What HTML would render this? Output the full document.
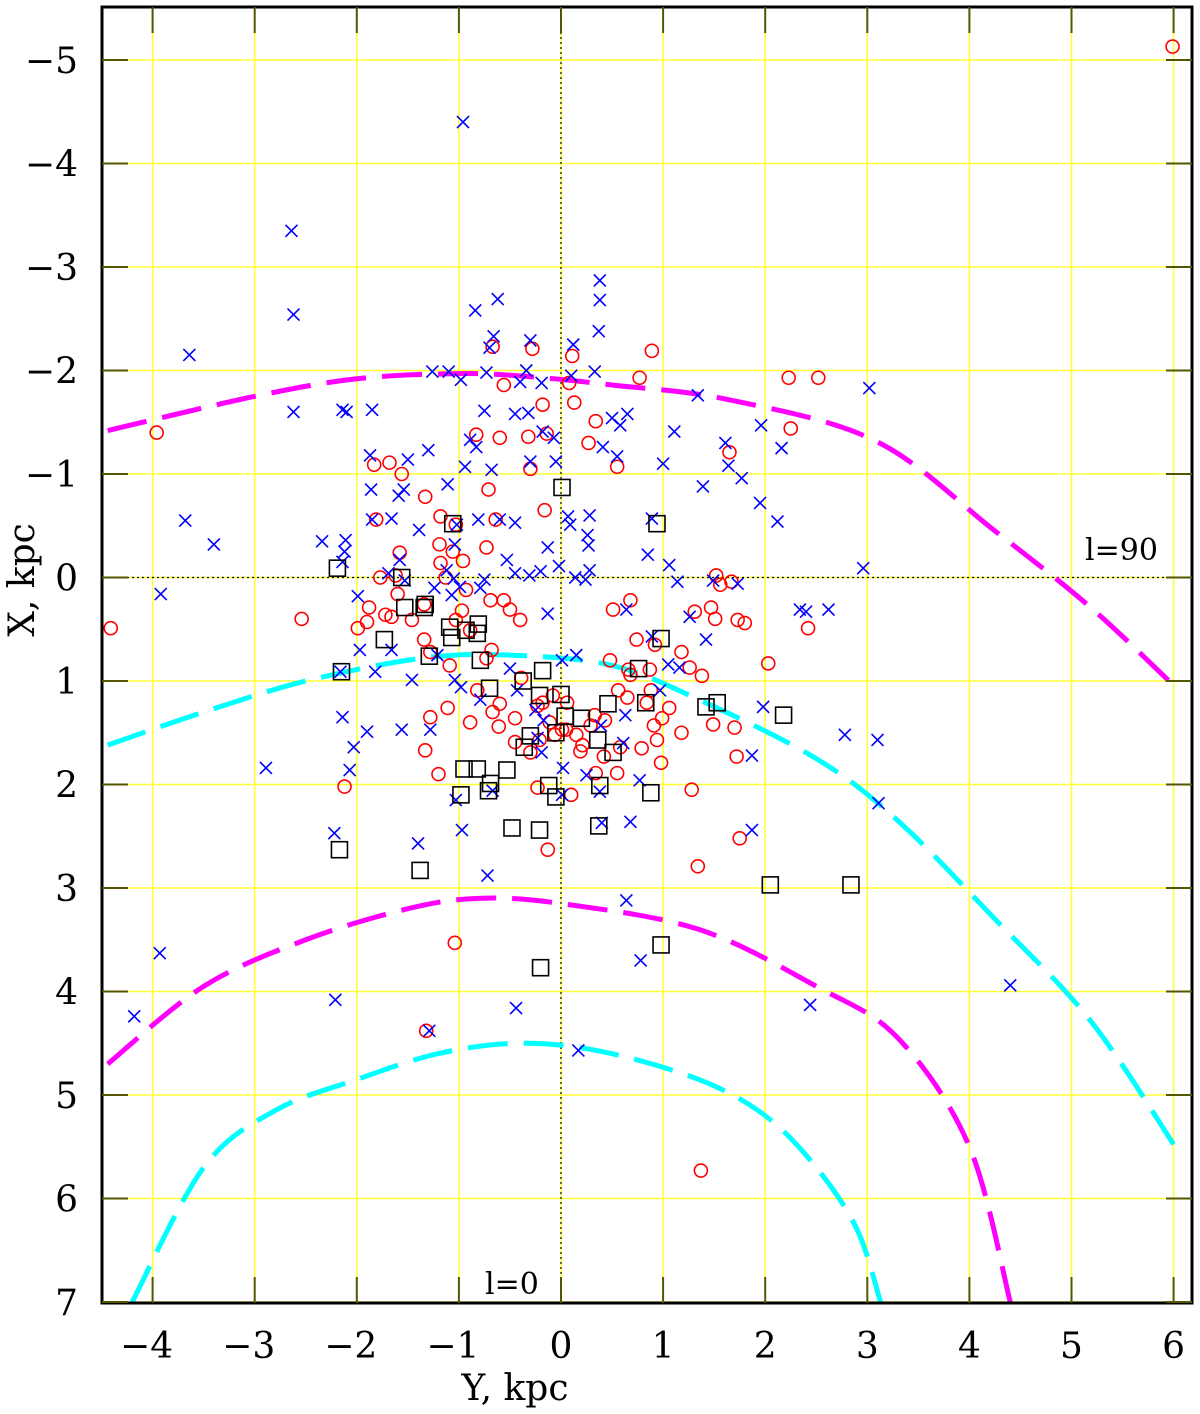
<!DOCTYPE html>
<html><head><meta charset="utf-8"><style>
html,body{margin:0;padding:0;background:#fff}
svg{display:block}
text{font-family:"DejaVu Serif","Liberation Serif",serif;fill:#000}
</style></head><body>
<svg id="chart" width="1200" height="1414" xmlns="http://www.w3.org/2000/svg">
<g id="grid"></g>
<g id="arcs"></g>
<g id="pts"></g>
<g id="axes"></g>
</svg>
<script>
// data arrays (Y kpc horizontal, X kpc vertical)
const xTicks=[-4,-3,-2,-1,0,1,2,3,4,5,6];
const yTicks=[-5,-4,-3,-2,-1,0,1,2,3,4,5,6,7];
const arcOuterMagY=[-4.44,-3,-2,-1,-0.3,0.5,1.63,3.08,4.25,5.2,6.06];
const arcOuterMagX=[-1.42,-1.75,-1.92,-1.97,-1.94,-1.86,-1.72,-1.32,-0.45,0.3,1.1];
const arcCyan1Y=[-4.44,-3.5,-2.5,-1.36,-0.5,0.5,1.35,2.5,3.3,4.25,5.2,6.08];
const arcCyan1X=[1.62,1.3,1.0,0.78,0.75,0.85,1.18,1.75,2.35,3.3,4.3,5.6];
const arcMag2Y=[-4.44,-3.5,-2.5,-1.5,-0.8,0,1.35,2.5,3.3,4.0,4.4];
const arcMag2X=[4.7,3.95,3.5,3.2,3.1,3.15,3.4,3.95,4.45,5.5,7.0];
const arcCyan2Y=[-4.2,-3.5,-2.8,-2,-1.2,-0.4,0.4,1.35,2.0,2.5,2.9,3.13];
const arcCyan2X=[7.0,5.7,5.15,4.85,4.6,4.5,4.58,4.85,5.2,5.7,6.3,7.0];
function px(p){return p.map(v=>[+((v[0]-561)/102.1).toFixed(2),+((v[1]-577.5)/103.5).toFixed(2)]);}
const crosses=px([[463,122],[291,231],[294,315],[189,355],[294,412],[185,521],[214,544],[161,594],[347,412],[372,410],[432,372],[449,372],[461,380],[486,373],[526,371],[475,310],[498,299],[530,340],[600,280],[600,300],[599,331],[573,345],[595,372],[571,376],[627,414],[620,425],[603,447],[490,348],[494,336],[520,382],[470,440],[476,447],[492,470],[530,462],[554,438],[556,462],[543,432],[542,383],[528,413],[515,414],[484,411],[612,418],[663,464],[674,432],[703,486],[698,395],[725,443],[728,466],[742,478],[761,425],[782,448],[760,503],[777,522],[869,388],[863,568],[800,610],[738,584],[713,581],[677,582],[669,565],[652,518],[648,555],[617,456],[590,515],[588,535],[589,545],[585,580],[590,570],[568,516],[570,525],[548,548],[559,566],[575,577],[541,571],[529,575],[515,573],[484,580],[507,560],[515,523],[500,520],[478,520],[457,525],[455,544],[447,570],[454,579],[460,587],[480,588],[419,530],[400,560],[372,520],[392,519],[371,490],[404,490],[408,460],[428,450],[448,484],[465,467],[399,496],[370,455],[342,410],[346,540],[345,552],[342,562],[322,541],[358,596],[388,573],[405,581],[434,588],[452,595],[548,614],[562,660],[576,655],[510,669],[517,690],[535,710],[544,720],[480,700],[461,687],[437,655],[412,680],[392,650],[360,650],[375,672],[340,672],[342,717],[354,747],[350,770],[367,732],[402,730],[430,730],[455,680],[626,610],[652,636],[668,664],[679,668],[690,617],[706,640],[660,690],[625,715],[601,725],[623,743],[640,780],[587,775],[600,792],[630,822],[602,823],[562,795],[542,752],[563,768],[538,738],[493,791],[456,800],[462,830],[487,876],[418,844],[334,833],[335,1000],[429,1031],[516,1008],[578,1050],[626,900],[641,960],[810,1005],[845,735],[877,740],[879,803],[752,756],[752,830],[763,707],[806,612],[829,610],[266,768],[160,953],[134,1016],[1010,985]]);
const circles=px([[1173,47],[111,628],[157,433],[493,347],[532,349],[572,356],[652,351],[789,378],[504,385],[569,383],[574,403],[589,443],[617,467],[596,421],[640,378],[547,434],[543,405],[528,437],[500,438],[476,435],[488,490],[496,520],[545,510],[530,469],[486,547],[453,552],[463,561],[456,525],[440,544],[425,497],[441,516],[389,463],[374,465],[402,474],[376,520],[380,578],[396,575],[398,594],[400,553],[392,617],[412,620],[367,622],[358,628],[424,640],[430,652],[450,665],[456,620],[462,611],[466,590],[470,630],[491,600],[504,600],[510,610],[520,620],[492,650],[486,658],[477,690],[448,708],[430,717],[425,750],[426,1031],[438,774],[455,943],[345,787],[302,619],[500,704],[515,718],[493,712],[499,727],[515,742],[530,752],[540,740],[538,706],[550,722],[543,703],[553,695],[562,730],[555,735],[566,730],[576,735],[582,745],[595,715],[605,720],[618,690],[630,675],[650,670],[651,690],[647,703],[662,718],[628,670],[610,660],[613,610],[630,600],[637,640],[655,645],[681,652],[690,668],[702,676],[695,612],[711,608],[716,575],[720,585],[715,619],[745,623],[732,582],[729,452],[791,428],[818,378],[738,620],[768,663],[808,628],[701,1171],[669,708],[657,740],[642,748],[661,763],[681,733],[713,724],[735,728],[737,757],[692,790],[617,773],[571,795],[538,788],[548,850],[596,773],[604,757],[740,838],[698,866],[654,725],[620,747],[627,698],[470,722],[580,751],[591,725],[567,703],[521,678],[446,577],[369,607],[385,615],[424,604],[441,563]]);
const squares=px([[337,568],[402,578],[384,640],[341,672],[425,604],[429,656],[450,627],[452,638],[477,633],[453,524],[480,660],[490,688],[523,681],[543,671],[540,695],[561,694],[556,733],[565,716],[581,718],[598,740],[613,752],[608,704],[639,669],[661,639],[646,703],[651,793],[657,524],[562,487],[717,703],[706,707],[784,715],[600,786],[549,786],[540,830],[512,828],[491,783],[489,791],[461,795],[464,769],[477,769],[507,770],[339,850],[420,870],[770,885],[851,885],[661,945],[541,968],[524,747],[530,736],[466,630],[478,624],[405,607],[424,607],[556,797],[599,826]]);

const NS='http://www.w3.org/2000/svg';
const L=102,R=1192,T=7,B=1303;
const sx=v=>561+v*102.1, sy=v=>577.5+v*103.5;
function mk(tag,attrs,parent){const e=document.createElementNS(NS,tag);for(const k in attrs)e.setAttribute(k,attrs[k]);parent.appendChild(e);return e;}
const grid=document.getElementById('grid'),arcs=document.getElementById('arcs'),pts=document.getElementById('pts'),axes=document.getElementById('axes');
const clip=mk('clipPath',{id:'cp'},mk('defs',{},document.getElementById('chart')));
mk('rect',{x:L,y:T,width:R-L,height:B-T},clip);
xTicks.forEach(v=>{const l=mk('line',{x1:sx(v),x2:sx(v),y1:T,y2:B,stroke:'#ffff33','stroke-width':1.5},grid);

});
yTicks.forEach(v=>{const l=mk('line',{y1:sy(v),y2:sy(v),x1:L,x2:R,stroke:'#ffff33','stroke-width':1.5},grid);

});
mk('line',{x1:sx(0),x2:sx(0),y1:T,y2:B,stroke:'#000','stroke-dasharray':'2,3','stroke-width':1.2},grid);
mk('line',{y1:sy(0),y2:sy(0),x1:L,x2:R,stroke:'#000','stroke-dasharray':'2,3','stroke-width':1.2},grid);
function curve(Ys,Xs,color,name){
  const p=Ys.map((y,i)=>[sx(y),sy(Xs[i])]);
  let d='M'+p[0][0]+','+p[0][1];
  for(let i=0;i<p.length-1;i++){const p0=p[i-1]||p[i],p1=p[i],p2=p[i+1],p3=p[i+2]||p2;
    d+=` C${p1[0]+(p2[0]-p0[0])/6},${p1[1]+(p2[1]-p0[1])/6} ${p2[0]-(p3[0]-p1[0])/6},${p2[1]-(p3[1]-p1[1])/6} ${p2[0]},${p2[1]}`;}
  const e=mk('path',{d:d,fill:'none',stroke:color,'stroke-width':5,'stroke-dasharray':'40,16','clip-path':'url(#cp)'},arcs);
  
  
}
curve(arcOuterMagY,arcOuterMagX,'#ff00ff','arm-outer-magenta');
curve(arcCyan1Y,arcCyan1X,'#00ffff','arm-cyan-upper');
curve(arcMag2Y,arcMag2X,'#ff00ff','arm-magenta-lower');
curve(arcCyan2Y,arcCyan2X,'#00ffff','arm-cyan-lower');
circles.forEach(p=>{const e=mk('circle',{cx:sx(p[0]),cy:sy(p[1]),r:6.5,fill:'none',stroke:'#ff0000','stroke-width':1.6},pts);

});
crosses.forEach(p=>{const x=sx(p[0]),y=sy(p[1]);const e=mk('path',{d:`M${x-6},${y-6}L${x+6},${y+6}M${x-6},${y+6}L${x+6},${y-6}`,stroke:'#0000ff','stroke-width':1.6},pts);

});
squares.forEach(p=>{const e=mk('rect',{x:sx(p[0])-8,y:sy(p[1])-8,width:16,height:16,fill:'none',stroke:'#000','stroke-width':1.6},pts);

});
const fr=mk('rect',{x:L,y:T,width:R-L,height:B-T,fill:'none',stroke:'#000','stroke-width':3},axes);


xTicks.forEach(v=>{mk('line',{x1:sx(v),x2:sx(v),y1:B,y2:B-26,stroke:'#555500','stroke-width':2},axes);mk('line',{x1:sx(v),x2:sx(v),y1:T,y2:T+26,stroke:'#555500','stroke-width':2},axes);
const t=mk('text',{x:sx(v)-(v<0?6:0),y:1358,'text-anchor':'middle','font-size':36},axes);t.textContent=v<0?'\u2212'+(-v):v;

});
yTicks.forEach(v=>{mk('line',{y1:sy(v),y2:sy(v),x1:L,x2:L+26,stroke:'#555500','stroke-width':2},axes);mk('line',{y1:sy(v),y2:sy(v),x1:R,x2:R-26,stroke:'#555500','stroke-width':2},axes);
const t=mk('text',{x:78,y:sy(v)+13,'text-anchor':'end','font-size':36},axes);t.textContent=v<0?'\u2212'+(-v):v;

});
</script>
<svg style="position:absolute;left:0;top:0" width="1200" height="1414">
<text x="515" y="1400" text-anchor="middle" font-size="36" style="font-family:'DejaVu Serif',serif">Y, kpc</text>
<text transform="translate(34,580) rotate(-90)" text-anchor="middle" font-size="36" style="font-family:'DejaVu Serif',serif">X, kpc</text>
<text x="1085" y="560" font-size="30" style="font-family:'DejaVu Serif',serif">l=90</text>
<text x="485" y="1294" font-size="30" style="font-family:'DejaVu Serif',serif">l=0</text>
</svg>
</body></html>
